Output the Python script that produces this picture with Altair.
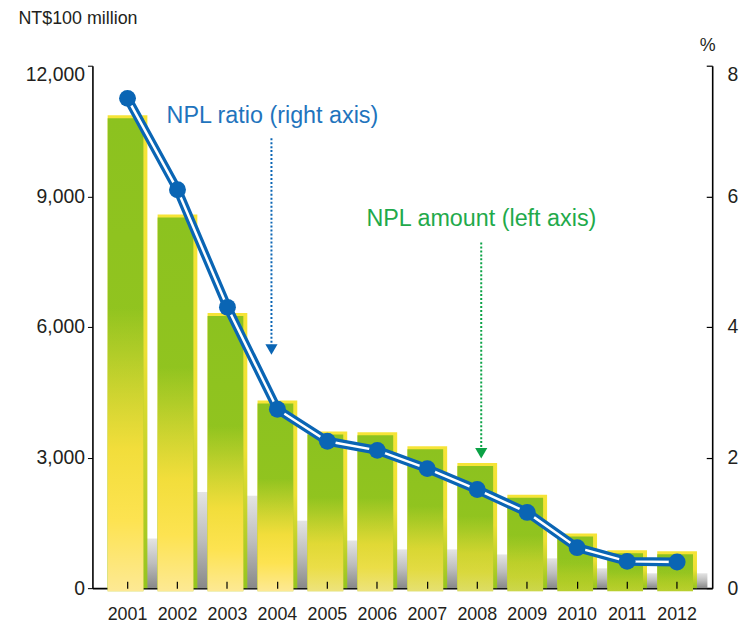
import altair as alt
import pandas as pd

years = [str(y) for y in range(2001, 2013)]
npl_amount = [10860, 8580, 6320, 4310, 3600, 3580, 3260, 2875, 2145, 1255, 870, 845]
npl_ratio = [7.5, 6.1, 4.3, 2.74, 2.25, 2.11, 1.83, 1.51, 1.16, 0.62, 0.41, 0.40]
# height (left-axis units) of the grey floor shadow visible behind each bar
shadow_top = [1140, 2210, 2120, 1550, 1095, 890, 890, 775, 685, 456, 342, 342]
amount_ticks = [0, 3000, 6000, 9000, 12000]
ratio_ticks = [0, 2, 4, 6, 8]

df = pd.DataFrame({"year": years, "amount": npl_amount, "ratio": npl_ratio, "shadow": shadow_top})

# annotations (label text, anchor year, anchor value on the left axis)
ratio_label = pd.DataFrame({"year": ["2002"], "amount": [10837], "label": ["NPL ratio (right axis)"]})
amount_label = pd.DataFrame({"year": ["2006"], "amount": [8487], "label": ["NPL amount (left axis)"]})
ratio_arrow = pd.DataFrame({"year": ["2004"], "start": [10335], "end": [5480]})
amount_arrow = pd.DataFrame({"year": ["2008"], "start": [7940], "end": [3100]})

BLUE = "#0a65b4"
BLUE_TXT = "#1f74bd"
GREEN_TXT = "#1faa4b"
GREEN_ARROW = "#0ba246"
FONT = "Liberation Sans"
TXT = "#231f20"

xscale = alt.Scale(paddingInner=0.205, paddingOuter=0.305)
xenc = alt.X(
    "year:N", sort=years, scale=xscale,
    axis=alt.Axis(orient="bottom", title=None, labelAngle=0, ticks=False, labelPadding=18,
                  labelFontSize=18, labelColor=TXT, labelFont=FONT,
                  domainColor="#000", domainWidth=1.6),
)
xtick = alt.X(
    "year:N", sort=years, scale=xscale,
    axis=alt.Axis(orient="bottom", title=None, labels=False, domain=False, offset=-7,
                  tickSize=7, tickColor="#000", tickWidth=1.2, zindex=2),
)
xplain = alt.X("year:N", sort=years, scale=xscale, axis=None)

amt_scale = alt.Scale(domain=[0, 12000], nice=False)
rat_scale = alt.Scale(domain=[0, 8], nice=False)

shadow_grad = alt.LinearGradient(
    gradient="linear", x1=0, y1=0, x2=0, y2=1,
    stops=[alt.GradientStop(color="#e4e4e4", offset=0),
           alt.GradientStop(color="#bdbdbd", offset=0.5),
           alt.GradientStop(color="#888888", offset=1)],
)
side_grad = alt.LinearGradient(
    gradient="linear", x1=0, y1=0, x2=0, y2=1,
    stops=[alt.GradientStop(color="#f6e437", offset=0),
           alt.GradientStop(color="#ecdf34", offset=0.5),
           alt.GradientStop(color="#94c41f", offset=1)],
)
front_grad = alt.LinearGradient(
    gradient="linear", x1=0, y1=0, x2=0, y2=1,
    stops=[alt.GradientStop(color="#8cc21f", offset=0),
           alt.GradientStop(color="#92c41f", offset=0.5),
           alt.GradientStop(color="#b0cc22", offset=1)],
)
yellow_grad = alt.LinearGradient(
    gradient="linear", x1=0, y1=0, x2=0, y2=1,
    stops=[alt.GradientStop(color="rgba(251,224,62,0)", offset=0),
           alt.GradientStop(color="rgba(251,224,62,0)", offset=0.4),
           alt.GradientStop(color="rgba(251,224,62,0.9)", offset=0.7),
           alt.GradientStop(color="#fde351", offset=0.85),
           alt.GradientStop(color="#fde994", offset=1)],
)

base = alt.Chart(df)

shadows = base.mark_bar(size=11, xOffset=25, color=shadow_grad).encode(
    x=xplain, y=alt.Y("shadow:Q", scale=amt_scale, axis=None),
)

bars_back = base.mark_bar(size=40, color=side_grad).encode(
    x=xenc,
    y=alt.Y("amount:Q", scale=amt_scale,
            axis=alt.Axis(orient="left", values=amount_ticks, format=",d", title="NT$100 million",
                          titleAngle=0, titleAlign="left", titleBaseline="middle",
                          titleX=-75, titleY=-47, titleFontSize=18, titleFontWeight="normal",
                          titleFont=FONT, titleColor=TXT,
                          labelFontSize=19.5, labelFont=FONT, labelColor=TXT,
                          labelBaseline=alt.condition("datum.value == 12000", alt.value("top"), alt.value("middle")),
                          tickSize=5, tickColor="#000", labelPadding=3,
                          domainColor="#000", domainWidth=1.6, grid=False)),
)
bars_front = base.mark_bar(size=36, xOffset=-2, yOffset=3, color=front_grad).encode(
    x=xplain, y=alt.Y("amount:Q", scale=amt_scale, axis=None),
)
bars_yellow = base.mark_bar(size=36, xOffset=-2, yOffset=3, color=yellow_grad).encode(
    x=xplain, y=alt.Y("amount:Q", scale=amt_scale, axis=None),
    opacity=alt.Opacity("amount:Q", scale=alt.Scale(domain=[1300, 4300], range=[0.12, 1], clamp=True),
                        legend=None),
)

lbl1 = alt.Chart(ratio_label).mark_text(align="left", baseline="middle", dx=-11,
                                        fontSize=23.5, font=FONT, color=BLUE_TXT).encode(
    x=xplain, y=alt.Y("amount:Q", scale=amt_scale, axis=None), text="label:N")
lbl2 = alt.Chart(amount_label).mark_text(align="left", baseline="middle", dx=-11,
                                         fontSize=23.5, font=FONT, color=GREEN_TXT).encode(
    x=xplain, y=alt.Y("amount:Q", scale=amt_scale, axis=None), text="label:N")

arr1 = alt.Chart(ratio_arrow).mark_rule(color=BLUE, strokeWidth=2, strokeDash=[2, 2], xOffset=-6).encode(
    x=xplain, y=alt.Y("start:Q", scale=amt_scale, axis=None), y2="end:Q")
head1 = alt.Chart(ratio_arrow).mark_point(shape="triangle-down", filled=True, size=150, opacity=1,
                                          color=BLUE, xOffset=-6).encode(
    x=xplain, y=alt.Y("end:Q", scale=amt_scale, axis=None))
arr2 = alt.Chart(amount_arrow).mark_rule(color=GREEN_ARROW, strokeWidth=2, strokeDash=[2, 2], xOffset=4).encode(
    x=xplain, y=alt.Y("start:Q", scale=amt_scale, axis=None), y2="end:Q")
head2 = alt.Chart(amount_arrow).mark_point(shape="triangle-down", filled=True, size=150, opacity=1,
                                           color=GREEN_ARROW, xOffset=4).encode(
    x=xplain, y=alt.Y("end:Q", scale=amt_scale, axis=None))

line_outer = base.mark_line(color=BLUE, strokeWidth=9).encode(
    x=xplain,
    y=alt.Y("ratio:Q", scale=rat_scale,
            axis=alt.Axis(orient="right", values=ratio_ticks, title="%", titleAngle=0,
                          titleAlign="center", titleBaseline="middle", titleX=-5, titleY=-20,
                          titleFontSize=18, titleFontWeight="normal", titleFont=FONT, titleColor=TXT,
                          labelFontSize=19.5, labelFont=FONT, labelColor=TXT,
                          labelBaseline=alt.condition("datum.value == 8", alt.value("top"), alt.value("middle")),
                          ticks=False, labelPadding=15,
                          domainColor="#000", domainWidth=1.6, grid=False)),
)
line_inner = base.mark_line(color="white", strokeWidth=2.5).encode(
    x=xplain,
    y=alt.Y("ratio:Q", scale=rat_scale,
            axis=alt.Axis(orient="right", values=ratio_ticks, offset=-6, domain=False,
                          labels=False, title=None, tickSize=6, tickColor="#000",
                          tickWidth=1.2, grid=False)),
)
points = base.mark_circle(color=BLUE, size=290, opacity=1).encode(
    x=xtick, y=alt.Y("ratio:Q", scale=rat_scale, axis=None))

chart = alt.layer(
    shadows, bars_back, bars_front, bars_yellow, lbl1, lbl2, arr1, head1, arr2, head2,
    line_outer, line_inner, points,
).resolve_scale(y="independent").resolve_axis(x="independent").properties(
    width=624, height=526,
    autosize=alt.AutoSizeParams(type="none"),
    padding={"left": 85, "top": 56, "right": 30, "bottom": 36},
).configure(background="white").configure_view(stroke=None)

chart.save("out.html", embed_options={"renderer": "svg", "actions": False})
